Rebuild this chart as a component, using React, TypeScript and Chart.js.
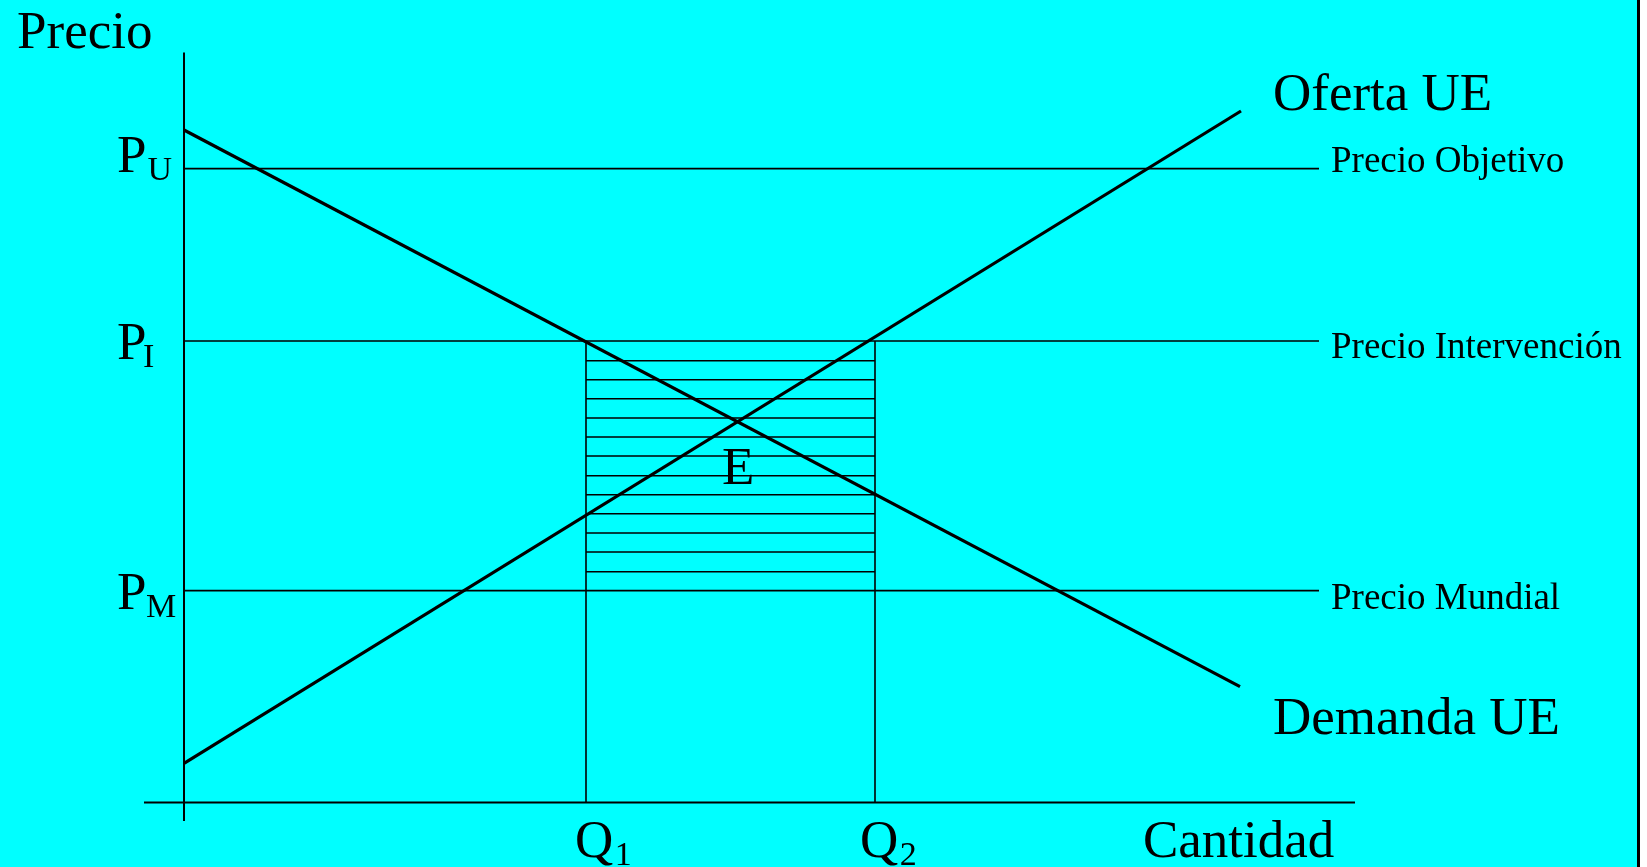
import React, { useEffect, useRef } from "react";
import { Chart, registerables } from "chart.js";

Chart.register(...registerables);

// ---- Data (chart units) ----
const priceSubscripts = ["U", "I", "M"];
const priceValues = [63.38, 46.15, 21.18];
const priceLineLabels = ["Precio Objetivo", "Precio Intervención", "Precio Mundial"];
const quantitySubscripts = ["1", "2"];
const quantityValues = [40.2, 69.1];
const demandX = [0, 105.6];
const demandY = [67.25, 11.58];
const supplyX = [0, 105.7];
const supplyY = [3.92, 69.15];
const hatchY = [44.18, 42.28, 40.38, 38.45, 36.55, 34.65, 32.68, 30.78, 28.88, 26.95, 25.05, 23.08];
const xAxisExtent = [-4, 117.1];
const yAxisExtent = [-1.85, 75];
const priceLineEnd = 113.5;

const W = 1647;
const H = 867;
const SERIF = "'Liberation Serif', 'Times New Roman', serif";

function seg(x1: number, y1: number, x2: number, y2: number, width: number) {
  return {
    data: [
      { x: x1, y: y1 },
      { x: x2, y: y2 },
    ],
    showLine: true,
    borderColor: "#000000",
    backgroundColor: "#000000",
    borderWidth: width,
    pointRadius: 0,
    pointHoverRadius: 0,
    clip: false as any,
  };
}

const backgroundPlugin = {
  id: "bgPlugin",
  beforeDraw(chart: any) {
    const ctx = chart.ctx;
    ctx.save();
    ctx.fillStyle = "#ffffff";
    ctx.fillRect(0, 0, chart.width, chart.height);
    ctx.fillStyle = "#00ffff";
    ctx.fillRect(0, 0, 1637, chart.height);
    ctx.fillStyle = "#000000";
    ctx.fillRect(1637, 0, 3, chart.height);
    ctx.restore();
  },
};

const labelPlugin = {
  id: "labelPlugin",
  afterDatasetsDraw(chart: any) {
    const ctx = chart.ctx;
    const xs = (v: number) => chart.scales.x.getPixelForValue(v);
    const ys = (v: number) => chart.scales.y.getPixelForValue(v);
    ctx.save();
    ctx.fillStyle = "#000000";
    ctx.textAlign = "left";
    ctx.textBaseline = "alphabetic";
    const big = `53px ${SERIF}`;
    const sub = `34px ${SERIF}`;
    const mid = `37px ${SERIF}`;
    const txt = (t: string, font: string, x: number, y: number) => {
      ctx.font = font;
      ctx.fillText(t, x, y);
    };

    // Axis titles
    txt("Precio", big, xs(0) - 167, ys(yAxisExtent[1]) - 4.5);
    txt("Cantidad", big, 1143, ys(0) + 54.5);

    // Price labels on the vertical axis
    const pBase = [3, 18.3, 18.3];
    const subLeft = [-36.5, -41, -38];
    priceValues.forEach((v, i) => {
      const by = ys(v) + pBase[i];
      txt("P", big, xs(0) - 67, by);
      txt(priceSubscripts[i], sub, xs(0) + subLeft[i], by + 8);
    });

    // Price line labels on the right
    const rBase = [3.3, 17, 18.3];
    priceValues.forEach((v, i) => {
      txt(priceLineLabels[i], mid, xs(priceLineEnd) + 12, ys(v) + rBase[i]);
    });

    // Quantity labels
    const qLeft = [-11, -15];
    ctx.font = big;
    const wQ = ctx.measureText("Q").width;
    quantityValues.forEach((v, i) => {
      const qx = xs(v) + qLeft[i];
      const by = ys(0) + 54.5;
      txt("Q", big, qx, by);
      txt(quantitySubscripts[i], sub, qx + wQ + 1.5, by + 8);
    });

    // Curve labels
    txt("Oferta UE", big, xs(supplyX[1]) + 32, ys(supplyY[1]) - 1);
    txt("Demanda UE", big, xs(demandX[1]) + 33, ys(demandY[1]) + 47);
    txt("E", big, 722, 484);
    ctx.restore();
  },
};

export default function App() {
  const canvasRef = useRef<HTMLCanvasElement | null>(null);

  useEffect(() => {
    if (!canvasRef.current) return;
    const datasets: any[] = [];
    // axes
    datasets.push(seg(0, yAxisExtent[0], 0, yAxisExtent[1], 2));
    datasets.push(seg(xAxisExtent[0], 0, xAxisExtent[1], 0, 2));
    // price lines
    priceValues.forEach((v) => datasets.push(seg(0, v, priceLineEnd, v, 1.7)));
    // quantity verticals
    quantityValues.forEach((q) => datasets.push(seg(q, 0, q, priceValues[1], 1.6)));
    // hatch
    hatchY.forEach((y) => datasets.push(seg(quantityValues[0], y, quantityValues[1], y, 1.6)));
    // demand & supply
    datasets.push(seg(demandX[0], demandY[0], demandX[1], demandY[1], 3.2));
    datasets.push(seg(supplyX[0], supplyY[0], supplyX[1], supplyY[1], 3.2));

    const chart = new Chart(canvasRef.current, {
      type: "scatter",
      data: { datasets },
      options: {
        animation: false,
        responsive: false,
        devicePixelRatio: 1,
        layout: { padding: 0 },
        plugins: {
          legend: { display: false },
          tooltip: { enabled: false },
        },
        events: [],
        scales: {
          x: { type: "linear", display: false, min: -18.4, max: 146.3 },
          y: { type: "linear", display: false, min: -6.45, max: 80.25 },
        },
      },
      plugins: [backgroundPlugin, labelPlugin],
    } as any);
    return () => chart.destroy();
  }, []);

  return (
    <div style={{ position: "fixed", left: 0, top: 0, width: W, height: H, background: "#ffffff" }}>
      <canvas ref={canvasRef} width={W} height={H} style={{ display: "block", width: W, height: H }} />
    </div>
  );
}
